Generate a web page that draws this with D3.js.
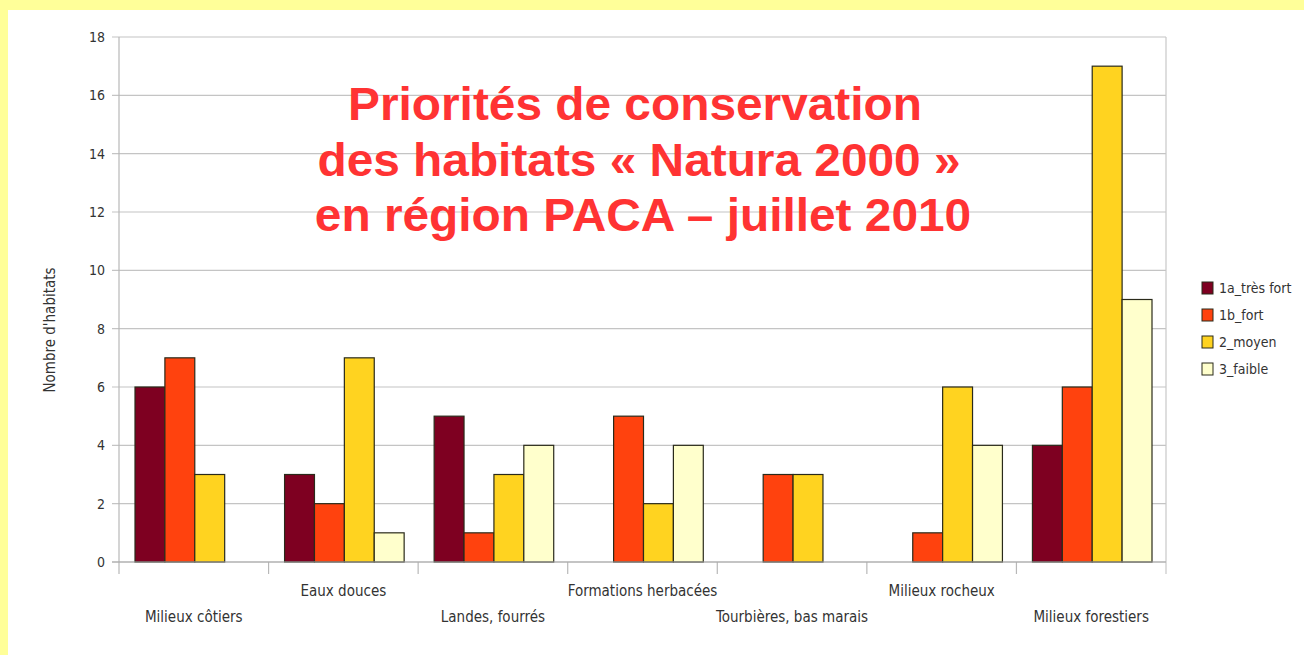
<!DOCTYPE html>
<html>
<head>
<meta charset="utf-8">
<script src="https://cdn.jsdelivr.net/npm/d3@7"></script>
<style>
  body { margin: 0; background: #ffff99; }
  svg { display: block; }
</style>
</head>
<body>
<div class="chart"></div>
<script>
// chart data
var categories = ["Milieux côtiers", "Eaux douces", "Landes, fourrés", "Formations herbacées",
  "Tourbières, bas marais", "Milieux rocheux", "Milieux forestiers"];
var seriesNames = ["1a_très fort", "1b_fort", "2_moyen", "3_faible"];
var tresFort = [6, 3, 5, 0, 0, 0, 4];
var fort = [7, 2, 1, 5, 3, 1, 6];
var moyen = [3, 7, 3, 2, 3, 6, 17];
var faible = [0, 1, 4, 4, 0, 4, 9];
var yTicks = [0, 2, 4, 6, 8, 10, 12, 14, 16, 18];
var titleLines = ["Priorités de conservation", "des habitats « Natura 2000 »", "en région PACA – juillet 2010"];

var colors = ["#7e0021", "#ff420e", "#ffd320", "#ffffcc"];
var allSeries = [tresFort, fort, moyen, faible];

var svgWidth = 1304;
var svgHeight = 655;
var margin = { top: 37, bottom: 93, right: 138, left: 119 };
var width = svgWidth - margin.left - margin.right;
var height = svgHeight - margin.top - margin.bottom;

var svg = d3.select(".chart").append("svg")
  .attr("width", svgWidth)
  .attr("height", svgHeight);

// white panel
svg.append("rect")
  .attr("x", 8).attr("y", 10)
  .attr("width", svgWidth - 8).attr("height", svgHeight - 10)
  .attr("fill", "#ffffff");

var chartGroup = svg.append("g")
  .attr("transform", `translate(${margin.left}, ${margin.top})`);

var narrow = "'Liberation Sans Narrow', 'Arial Narrow', 'DejaVu Sans Condensed', sans-serif";

// scales
var x0 = d3.scaleBand().domain(categories).range([0, width]).paddingInner(0).paddingOuter(0);
var x1 = d3.scaleBand().domain(d3.range(4)).range([16, x0.bandwidth() - 14]).padding(0);
var y = d3.scaleLinear().domain([0, 18]).range([height, 0]);

// gridlines
chartGroup.selectAll(".grid").data(yTicks).enter().append("line")
  .attr("x1", -7).attr("x2", width)
  .attr("y1", d => y(d)).attr("y2", d => y(d))
  .attr("stroke", "#c4c4c4").attr("stroke-width", 1.2);

// y axis line & right border
chartGroup.append("line").attr("x1", 0).attr("x2", 0).attr("y1", 0).attr("y2", height)
  .attr("stroke", "#b8b8b8").attr("stroke-width", 1.2);
chartGroup.append("line").attr("x1", width).attr("x2", width).attr("y1", 0).attr("y2", height + 12)
  .attr("stroke", "#c8c8c8").attr("stroke-width", 1.2);

// category tick marks
chartGroup.selectAll(".ctick").data(categories).enter().append("line")
  .attr("x1", d => x0(d)).attr("x2", d => x0(d))
  .attr("y1", height).attr("y2", height + 12)
  .attr("stroke", "#b8b8b8").attr("stroke-width", 1.2);

// y tick labels
chartGroup.selectAll(".ylab").data(yTicks).enter().append("text")
  .attr("x", -14).attr("y", d => y(d)).attr("dy", "0.35em")
  .attr("text-anchor", "end")
  .attr("font-family", narrow).attr("font-size", 14).attr("fill", "#333")
  .text(d => d);

// bars
var groups = chartGroup.selectAll(".cat").data(categories).enter().append("g")
  .attr("transform", d => `translate(${x0(d)},0)`);

groups.selectAll("rect")
  .data((d, i) => allSeries.map((s, k) => ({ k: k, v: s[i] })).filter(e => e.v > 0))
  .enter().append("rect")
  .attr("x", d => x1(d.k))
  .attr("y", d => y(d.v))
  .attr("width", x1.bandwidth())
  .attr("height", d => height - y(d.v))
  .attr("fill", d => colors[d.k])
  .attr("stroke", "#2a2a1a").attr("stroke-width", 1.2);

// x axis baseline
chartGroup.append("line").attr("x1", -7).attr("x2", width).attr("y1", height).attr("y2", height)
  .attr("stroke", "#a8a8a8").attr("stroke-width", 1.2);

// category labels, staggered
chartGroup.selectAll(".xlab").data(categories).enter().append("text")
  .attr("x", d => x0(d) + x0.bandwidth() / 2)
  .attr("y", (d, i) => height + (i % 2 === 0 ? 60 : 34))
  .attr("text-anchor", "middle")
  .attr("font-family", narrow).attr("font-size", 15).attr("fill", "#333")
  .text(d => d);

// y axis title
svg.append("text")
  .attr("transform", "translate(55, 330) rotate(-90)")
  .attr("text-anchor", "middle")
  .attr("font-family", narrow).attr("font-size", 15).attr("fill", "#333")
  .text("Nombre d'habitats");

// legend
var legend = svg.append("g").attr("transform", "translate(1202, 282)");
var items = legend.selectAll("g").data(seriesNames).enter().append("g")
  .attr("transform", (d, i) => `translate(0, ${i * 27})`);
items.append("rect").attr("width", 11).attr("height", 12)
  .attr("fill", (d, i) => colors[i]).attr("stroke", "#2a2a1a").attr("stroke-width", 1);
items.append("text").attr("x", 17).attr("y", 6).attr("dy", "0.35em")
  .attr("font-family", narrow).attr("font-size", 14).attr("fill", "#333")
  .text(d => d);

// title
var titleX = [635, 639, 643];
var titleY = [120, 176, 231];
svg.selectAll(".title").data(titleLines).enter().append("text")
  .attr("transform", (d, i) => `translate(${titleX[i]}, ${titleY[i]}) scale(1.04, 1)`)
  .attr("text-anchor", "middle")
  .attr("font-family", "'Liberation Sans', Arial, sans-serif")
  .attr("font-weight", "bold").attr("font-size", 46).attr("fill", "#ff3333")
  .text(d => d);
</script>
</body>
</html>
